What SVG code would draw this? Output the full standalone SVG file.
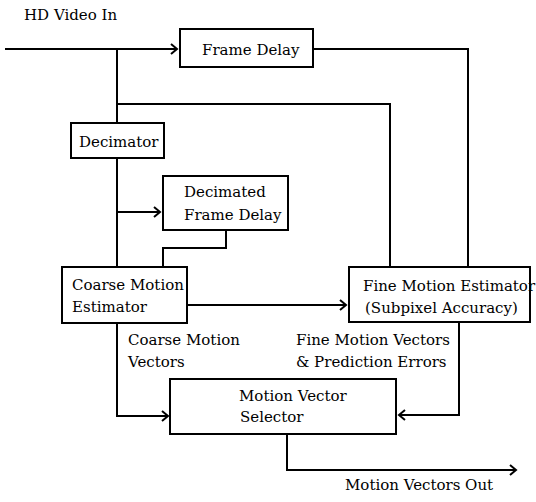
<svg xmlns="http://www.w3.org/2000/svg" width="536" height="502" viewBox="0 0 536 502">
<defs>
<style>
.box{fill:#fff;stroke:#000;stroke-width:2}
.ln{fill:none;stroke:#000;stroke-width:2}
</style>
<marker id="arr" markerWidth="10" markerHeight="12" refX="8" refY="6" orient="auto" markerUnits="userSpaceOnUse">
<path d="M2,1 L8,6 L2,11" fill="none" stroke="#000" stroke-width="2"/>
</marker>
</defs>
<rect width="536" height="502" fill="#fff"/>
<g id="connectors">
<path class="ln" d="M5,49 H177" marker-end="url(#arr)"/>
<path class="ln" d="M117,49 V123"/>
<path class="ln" d="M117,104 H390 V267"/>
<path class="ln" d="M313,49 H468 V267"/>
<path class="ln" d="M117,158 V267"/>
<path class="ln" d="M117,212 H160" marker-end="url(#arr)"/>
<path class="ln" d="M226,230 V248 H163 V267"/>
<path class="ln" d="M187,305 H346" marker-end="url(#arr)"/>
<path class="ln" d="M117,323 V416 H168" marker-end="url(#arr)"/>
<path class="ln" d="M459,322 V415 H399" marker-end="url(#arr)"/>
<path class="ln" d="M287,434 V470 H516" marker-end="url(#arr)"/>
</g>
<g font-family="'DejaVu Serif', serif" font-size="15" fill="#000">
<g id="frame-delay">
<rect class="box" x="180" y="29" width="133" height="38"/>
<text x="202" y="55">Frame Delay</text>
</g>
<g id="decimator">
<rect class="box" x="71" y="123" width="93" height="35"/>
<text x="79" y="147">Decimator</text>
</g>
<g id="decimated-frame-delay">
<rect class="box" x="163" y="176" width="125" height="54"/>
<text x="184" y="197">Decimated</text>
<text x="184" y="220">Frame Delay</text>
</g>
<g id="coarse-motion-estimator">
<rect class="box" x="62" y="267" width="125" height="56"/>
<text x="72" y="290">Coarse Motion</text>
<text x="72" y="312">Estimator</text>
</g>
<g id="fine-motion-estimator">
<rect class="box" x="349" y="267" width="181" height="55"/>
<text x="363" y="291">Fine Motion Estimator</text>
<text x="365" y="313">(Subpixel Accuracy)</text>
</g>
<g id="motion-vector-selector">
<rect class="box" x="170" y="379" width="226" height="55"/>
<text x="239" y="401">Motion Vector</text>
<text x="240" y="422">Selector</text>
</g>
<g id="labels">
<text x="24" y="20">HD Video In</text>
<text x="128" y="345">Coarse Motion</text>
<text x="128" y="367">Vectors</text>
<text x="296" y="345">Fine Motion Vectors</text>
<text x="296" y="367">&amp; Prediction Errors</text>
<text x="345" y="490">Motion Vectors Out</text>
</g>
</g>
</svg>
